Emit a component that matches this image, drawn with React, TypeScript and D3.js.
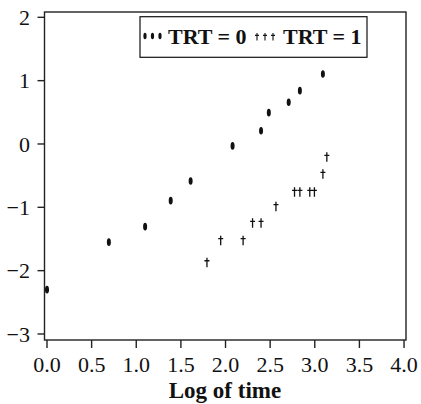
import React from "react";
import * as d3 from "d3";

const trt0X = [0.0, 0.693, 1.099, 1.386, 1.609, 2.079, 2.398, 2.485, 2.708, 2.833, 3.091];
const trt0Y = [-2.3, -1.55, -1.305, -0.895, -0.585, -0.03, 0.21, 0.495, 0.658, 0.842, 1.106];
const trt1X = [1.792, 1.946, 2.197, 2.303, 2.398, 2.565, 2.773, 2.833, 2.944, 2.996, 3.091, 3.135];
const trt1Y = [-1.875, -1.527, -1.527, -1.253, -1.253, -0.99, -0.763, -0.763, -0.763, -0.763, -0.479, -0.21];
const xTicks = [0, 0.5, 1, 1.5, 2, 2.5, 3, 3.5, 4];
const yTicks = [-3, -2, -1, 0, 1, 2];
const legendLabels = ["TRT = 0", "TRT = 1"];
const xTitle = "Log of time";

const W = 421;
const H = 404;
const L = 44.5, R = 406, T = 12, B = 340;

export default function App() {
  const x = d3.scaleLinear().domain([-0.028, 4.022]).range([L, R]);
  const y = d3.scaleLinear().domain([-3.095, 2.084]).range([B, T]);
  const font = "'Liberation Serif', 'Times New Roman', serif";
  const dagger = (cx: number, cy: number, s = 1) =>
    `M${cx},${cy - 5 * s}L${cx},${cy + 4.5 * s}M${cx - 2.5 * s},${cy - 2 * s}L${cx + 2.5 * s},${cy - 2 * s}`;
  return (
    <svg width={W} height={H} style={{ position: "absolute", left: 0, top: 0, background: "#fff" }}>
      <rect x={0} y={0} width={W} height={H} fill="#fff" />
      {/* frame */}
      <rect x={L} y={T} width={R - L} height={B - T} fill="none" stroke="#222" strokeWidth={1.4} />
      {/* y ticks */}
      {yTicks.map((t) => (
        <g key={"y" + t}>
          <line x1={L - 7} x2={L} y1={y(t)} y2={y(t)} stroke="#222" strokeWidth={1.4} />
          <text x={30} y={y(t)} dy="0.35em" textAnchor="end" fontFamily={font} fontSize={22} fill="#111">
            {t < 0 ? "\u2212" + Math.abs(t) : String(t)}
          </text>
        </g>
      ))}
      {/* x ticks */}
      {xTicks.map((t) => (
        <g key={"x" + t}>
          <line x1={x(t)} x2={x(t)} y1={B} y2={B + 8} stroke="#222" strokeWidth={1.4} />
          <text x={x(t)} y={372} textAnchor="middle" fontFamily={font} fontSize={22} fill="#111">
            {t.toFixed(1)}
          </text>
        </g>
      ))}
      <text x={225} y={398} textAnchor="middle" fontFamily={font} fontSize={23} fontWeight="bold" fill="#111">
        {xTitle}
      </text>
      {/* TRT=0 points */}
      {trt0X.map((v, i) => (
        <ellipse key={"a" + i} cx={x(v)} cy={y(trt0Y[i])} rx={2} ry={3.8} fill="#111" />
      ))}
      {/* TRT=1 points */}
      {trt1X.map((v, i) => (
        <path key={"b" + i} d={dagger(x(v), y(trt1Y[i]))} stroke="#111" strokeWidth={1.3} fill="none" />
      ))}
      {/* legend */}
      <rect x={140} y={16.7} width={227} height={40.6} fill="#fff" stroke="#111" strokeWidth={1.2} />
      {[145, 152.5, 160].map((cx, i) => (
        <ellipse key={"la" + i} cx={cx} cy={36} rx={1.6} ry={3.2} fill="#111" />
      ))}
      <text x={168} y={44} fontFamily={font} fontSize={22} fontWeight="bold" fill="#111">
        {legendLabels[0]}
      </text>
      {[257, 265, 273].map((cx, i) => (
        <path key={"lb" + i} d={dagger(cx, 37, 0.8)} stroke="#111" strokeWidth={1.1} fill="none" />
      ))}
      <text x={283} y={44} fontFamily={font} fontSize={22} fontWeight="bold" fill="#111">
        {legendLabels[1]}
      </text>
    </svg>
  );
}
